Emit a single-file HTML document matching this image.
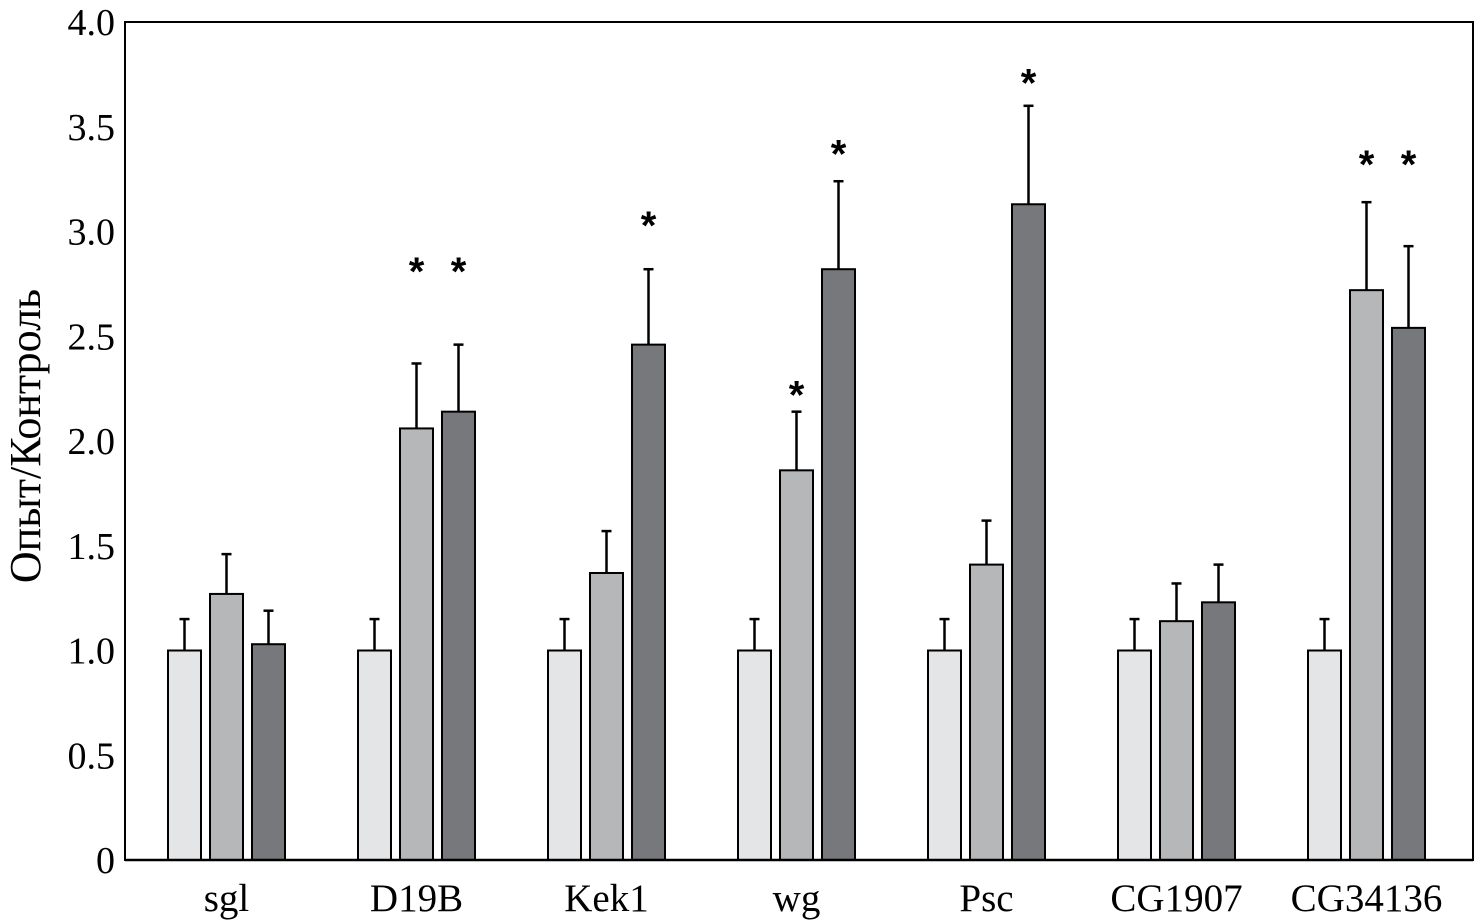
<!DOCTYPE html>
<html><head><meta charset="utf-8"><style>
html,body{margin:0;padding:0;background:#fff;}
svg{display:block;font-family:"Liberation Serif",serif;}
</style></head><body>
<svg id="chart" width="1481" height="924"></svg>
<script>
const categories=["sgl","D19B","Kek1","wg","Psc","CG1907","CG34136"];
const series1=[1.0,1.0,1.0,1.0,1.0,1.0,1.0];
const series2=[1.27,2.06,1.37,1.86,1.41,1.14,2.72];
const series3=[1.03,2.14,2.46,2.82,3.13,1.23,2.54];
const err1=[0.15,0.15,0.15,0.15,0.15,0.15,0.15];
const err2=[0.19,0.31,0.20,0.28,0.21,0.18,0.42];
const err3=[0.16,0.32,0.36,0.42,0.47,0.18,0.39];
const star2=[null,2.84,null,2.25,null,null,3.35];
const star3=[null,2.84,3.06,3.40,3.74,null,3.35];
const yTicks=[0,0.5,1.0,1.5,2.0,2.5,3.0,3.5,4.0];
const yTickLabels=["0","0.5","1.0","1.5","2.0","2.5","3.0","3.5","4.0"];

const NS="http://www.w3.org/2000/svg";
const svg=document.getElementById('chart');
const L=125,R=1473,T=22,B=860;
const y=v=>B-(v/4)*(B-T);
const groupX=i=>168+i*190;
const barW=33, step=42;
function mk(tag,attrs,parent){const e=document.createElementNS(NS,tag);for(const k in attrs)e.setAttribute(k,attrs[k]);(parent||svg).appendChild(e);return e;}

const frame=mk('rect',{x:L,y:T,width:R-L,height:B-T,fill:'none',stroke:'#000','stroke-width':2});



yTicks.forEach((t,i)=>{
  const tl=mk('text',{x:L-10,y:y(t)+13,'text-anchor':'end','font-size':38});
  tl.textContent=yTickLabels[i];
  
  
});

const yt=mk('text',{x:0,y:0,'text-anchor':'middle','font-size':44,transform:'translate(40,436) rotate(-90)'});
yt.textContent='Опыт/Контроль';



const colors=['#e4e5e7','#b6b7b9','#77787c'];
const vals=[series1,series2,series3], errs=[err1,err2,err3], stars=[null,star2,star3];
categories.forEach((c,i)=>{
  const g=mk('g',{});
  
  
  for(let s=0;s<3;s++){
    const v=vals[s][i], x=groupX(i)+s*step, cx=x+barW/2;
    const top=y(v+errs[s][i]);
    const ln=mk('line',{x1:cx,x2:cx,y1:y(v),y2:top,stroke:'#000','stroke-width':2.5},g);
    
    
    const cp=mk('line',{x1:cx-5,x2:cx+5,y1:top,y2:top,stroke:'#000','stroke-width':2.5},g);
    
    
    const r=mk('rect',{x:x,y:y(v),width:barW,height:B-y(v),fill:colors[s],stroke:'#000','stroke-width':2},g);
    
    
    if(stars[s]&&stars[s][i]!=null){
      const st=mk('text',{x:cx,y:y(stars[s][i])+20,'text-anchor':'middle','font-size':40,'font-weight':'bold','font-family':'Liberation Sans, sans-serif'},g);
      st.textContent='*';
      
      
    }
  }
  const xl=mk('text',{x:groupX(i)+step+barW/2,y:911,'text-anchor':'middle','font-size':39});
  xl.textContent=c;
  
  
});
const base=mk('line',{x1:L,x2:R,y1:B,y2:B,stroke:'#000','stroke-width':2.5});


</script>
</body></html>
